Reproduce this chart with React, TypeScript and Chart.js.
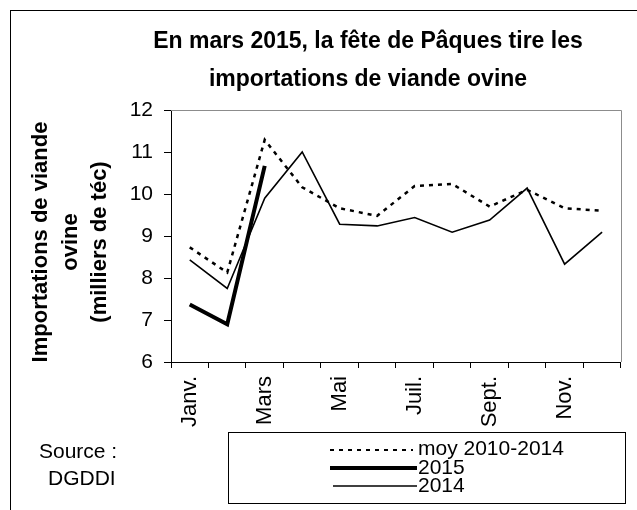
import React, { useEffect, useRef } from "react";
import { Chart, registerables } from "chart.js";

Chart.register(...registerables);

const months = ["Janv.", "Févr.", "Mars", "Avr.", "Mai", "Juin", "Juil.", "Août", "Sept.", "Oct.", "Nov.", "Déc."];
const moy20102014 = [8.73, 8.13, 11.29, 10.16, 9.66, 9.48, 10.19, 10.24, 9.7, 10.1, 9.66, 9.6];
const y2015 = [7.37, 6.9, 10.67];
const y2014 = [8.43, 7.75, 9.9, 11.0, 9.28, 9.24, 9.44, 9.09, 9.38, 10.14, 8.33, 9.09];
const yTicks = [6, 7, 8, 9, 10, 11, 12];

const titleLines = ["En mars 2015, la fête de Pâques tire les", "importations de viande ovine"];
const yTitleLines = ["Importations de viande", "ovine", "(milliers de téc)"];
const sourceLines = ["Source :", "DGDDI"];
const legendLabels = ["moy 2010-2014", "2015", "2014"];

const FONT = '"Liberation Sans", Arial, sans-serif';

const decorations = {
  id: "decorations",
  afterDraw(chart: any) {
    const ctx = chart.ctx as CanvasRenderingContext2D;
    const area = chart.chartArea;
    ctx.save();
    // outer frame
    ctx.strokeStyle = "#000";
    ctx.lineWidth = 1;
    ctx.strokeRect(10.5, 10.5, 700, 600);

    // plot border top & right (gray)
    ctx.strokeStyle = "#8c8c8c";
    ctx.lineWidth = 1;
    ctx.beginPath();
    ctx.moveTo(area.left, Math.round(area.top) + 0.5);
    ctx.lineTo(Math.round(area.right) + 0.5, Math.round(area.top) + 0.5);
    ctx.lineTo(Math.round(area.right) + 0.5, area.bottom);
    ctx.stroke();

    // title
    ctx.fillStyle = "#000";
    ctx.font = `bold 23px ${FONT}`;
    ctx.textAlign = "center";
    ctx.textBaseline = "alphabetic";
    ctx.fillText(titleLines[0], 368, 48);
    ctx.fillText(titleLines[1], 368, 86);

    // y title
    ctx.save();
    ctx.translate(0, 242);
    ctx.rotate(-Math.PI / 2);
    ctx.font = `bold 22px ${FONT}`;
    ctx.textAlign = "center";
    ctx.textBaseline = "middle";
    const xs = [41, 71, 100];
    yTitleLines.forEach((t, i) => ctx.fillText(t, 0, xs[i]));
    ctx.restore();

    // source
    ctx.font = `21px ${FONT}`;
    ctx.textAlign = "left";
    ctx.textBaseline = "alphabetic";
    ctx.fillText(sourceLines[0], 39, 458);
    ctx.fillText(sourceLines[1], 48, 485);

    // legend box
    ctx.strokeStyle = "#000";
    ctx.lineWidth = 1;
    ctx.strokeRect(228.5, 432.5, 397, 71);
    // dashed
    ctx.beginPath();
    ctx.setLineDash([4, 5]);
    ctx.lineWidth = 2;
    ctx.moveTo(330, 450);
    ctx.lineTo(413, 450);
    ctx.stroke();
    ctx.setLineDash([]);
    ctx.beginPath();
    ctx.lineWidth = 4;
    ctx.moveTo(330, 468);
    ctx.lineTo(417, 468);
    ctx.stroke();
    ctx.beginPath();
    ctx.lineWidth = 1.5;
    ctx.moveTo(333, 486);
    ctx.lineTo(417, 486);
    ctx.stroke();
    ctx.font = `21px ${FONT}`;
    ctx.textBaseline = "alphabetic";
    ctx.fillText(legendLabels[0], 418, 455);
    ctx.fillText(legendLabels[1], 418, 474);
    ctx.fillText(legendLabels[2], 418, 492);
    ctx.restore();
  },
};

export default function App() {
  const ref = useRef<HTMLCanvasElement | null>(null);
  useEffect(() => {
    if (!ref.current) return;
    const chart = new Chart(ref.current, {
      type: "line",
      data: {
        labels: months,
        datasets: [
          {
            label: legendLabels[0],
            data: moy20102014,
            borderColor: "#000",
            borderWidth: 2.5,
            borderDash: [4, 5],
            pointRadius: 0,
            tension: 0,
            fill: false,
          },
          {
            label: legendLabels[1],
            data: y2015,
            borderColor: "#000",
            borderWidth: 4,
            pointRadius: 0,
            tension: 0,
            fill: false,
          },
          {
            label: legendLabels[2],
            data: y2014,
            borderColor: "#000",
            borderWidth: 1.6,
            pointRadius: 0,
            tension: 0,
            fill: false,
          },
        ],
      },
      options: {
        animation: false,
        responsive: false,
        maintainAspectRatio: false,
        layout: { padding: { left: 0, top: 110, right: 12, bottom: 0 } },
        plugins: {
          legend: { display: false },
          title: { display: false },
          tooltip: { enabled: false },
        },
        scales: {
          x: {
            type: "category",
            offset: true,
            grid: { offset: true, drawOnChartArea: false, drawTicks: true, tickLength: 6, color: "#000" },
            border: { color: "#000", width: 1 },
            ticks: {
              autoSkip: false,
              minRotation: 90,
              maxRotation: 90,
              padding: 8,
              color: "#000",
              font: { family: FONT, size: 22 },
              callback: (_v: any, i: number) => (i % 2 === 0 ? months[i] : ""),
            },
            afterFit: (s: any) => {
              s.height = 148;
            },
          },
          y: {
            min: yTicks[0],
            max: yTicks[yTicks.length - 1],
            grid: { drawOnChartArea: false, drawTicks: true, tickLength: 7, color: "#000" },
            border: { color: "#000", width: 1 },
            afterBuildTicks: (s: any) => {
              s.ticks = yTicks.map((v) => ({ value: v }));
            },
            ticks: {
              padding: 11,
              color: "#000",
              font: { family: FONT, size: 21 },
            },
            afterFit: (s: any) => {
              s.width = 171;
            },
          },
        },
      },
      plugins: [decorations],
    });
    return () => chart.destroy();
  }, []);
  return (
    <div style={{ position: "fixed", left: 0, top: 0, width: 637, height: 510, background: "#fff" }}>
      <canvas ref={ref} width={637} height={510} style={{ display: "block", width: 637, height: 510 }} />
    </div>
  );
}
